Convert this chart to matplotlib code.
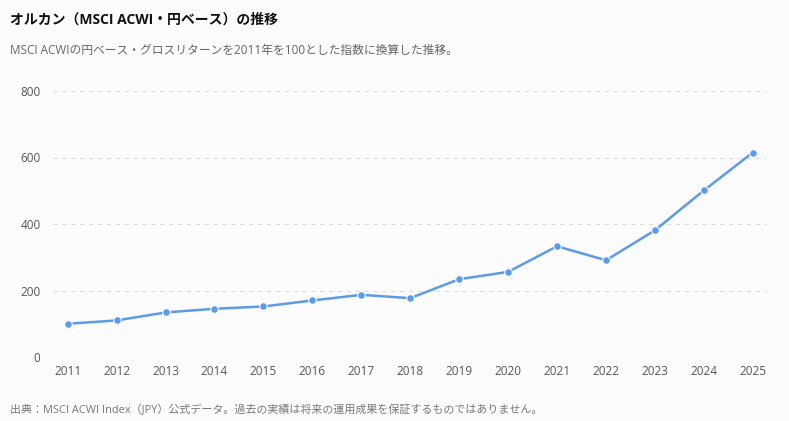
import numpy as np
import matplotlib.pyplot as plt

plt.rcParams['font.family'] = ['Open Sans', 'Noto Sans CJK JP', 'DejaVu Sans']

years = [2011, 2012, 2013, 2014, 2015, 2016, 2017, 2018,
         2019, 2020, 2021, 2022, 2023, 2024, 2025]
index_values = [100, 110, 134, 145, 152, 170, 187, 177,
                234, 256, 333, 291, 381, 501, 615]
y_ticks = [0, 200, 400, 600, 800]

title = 'オルカン（MSCI ACWI・円ベース）の推移'
subtitle = 'MSCI ACWIの円ベース・グロスリターンを2011年を100とした指数に換算した推移。'
footer = '出典：MSCI ACWI Index（JPY）公式データ。過去の実績は将来の運用成果を保証するものではありません。'

bg = '#fcfcfc'
line_color = '#5b9be8'

fig = plt.figure(figsize=(7.89, 4.21), dpi=100, facecolor=bg)
ax = fig.add_axes([53 / 789, 1 - 357 / 421, (767 - 53) / 789, (357 - 91) / 421])
ax.set_facecolor(bg)

# line with dots, one per year
ax.plot(years, index_values, color=line_color, linewidth=1.8, marker='o',
        markersize=5.5, markerfacecolor=line_color, markeredgecolor=bg,
        markeredgewidth=0.8, zorder=3)

ax.set_xlim(2010.7, 2025.29)
ax.set_ylim(0, 800)
ax.set_xticks(years)
ax.set_xticklabels([str(y) for y in years])
ax.set_yticks(y_ticks)
ax.set_yticklabels([str(v) for v in y_ticks])
ax.grid(axis='y', color='#dddddd', linestyle=(0, (4, 4)), linewidth=0.8)
ax.tick_params(length=0, labelsize=8.5, colors='#555555')
ax.tick_params(axis='y', pad=9)
ax.tick_params(axis='x', pad=6)
for s in ax.spines.values():
    s.set_visible(False)

fig.text(10 / 789, 1 - 20 / 421, title, fontsize=10, fontweight='bold',
         color='#111111', va='center', ha='left')
fig.text(10 / 789, 1 - 50 / 421, subtitle, fontsize=8.5, color='#666666',
         va='center', ha='left')
fig.text(10 / 789, 1 - 410 / 421, footer, fontsize=7.9, color='#777777',
         va='center', ha='left')

fig.savefig('out.png', dpi=100, facecolor=bg)
